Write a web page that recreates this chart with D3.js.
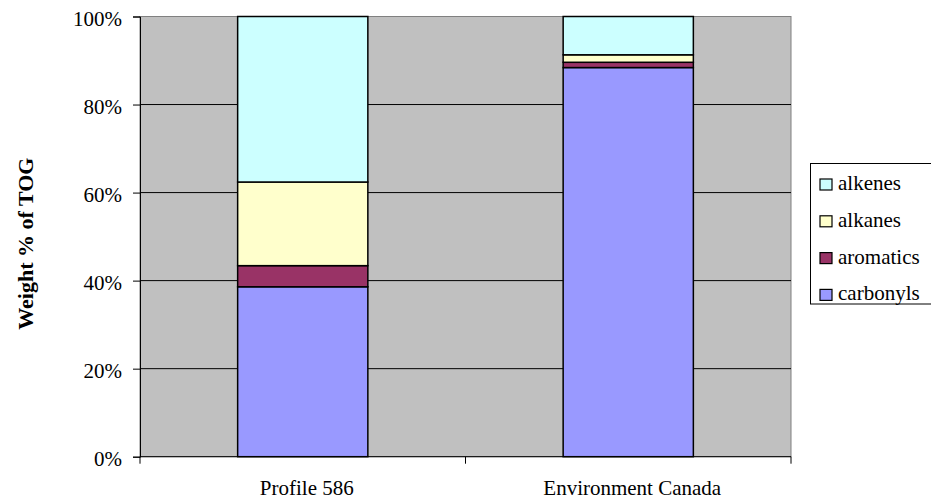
<!DOCTYPE html>
<html>
<head>
<meta charset="utf-8">
<script src="https://cdn.jsdelivr.net/npm/d3@7"></script>
<style>
  html, body { margin: 0; padding: 0; background: #fff; }
  svg { display: block; }
</style>
</head>
<body>
<svg id="chart" width="931" height="501"></svg>
<script>
// Profiles compared
const categories = ["Profile 586", "Environment Canada"];
// Compound classes, bottom to top of each stack
const seriesNames = ["carbonyls", "aromatics", "alkanes", "alkenes"];
// Weight % of TOG per class, one value per profile
const carbonyls = [38.6, 88.4];
const aromatics = [4.8, 1.2];
const alkanes = [19.0, 1.7];
const alkenes = [37.6, 8.7];
const yTicks = [0, 20, 40, 60, 80, 100];
const colors = { carbonyls: "#9999FF", aromatics: "#993366", alkanes: "#FFFFCC", alkenes: "#CCFFFF" };
const legendOrder = ["alkenes", "alkanes", "aromatics", "carbonyls"];

const FONT = "'Liberation Serif', 'Times New Roman', serif";

const rows = categories.map((c, i) => ({
  category: c,
  carbonyls: carbonyls[i], aromatics: aromatics[i], alkanes: alkanes[i], alkenes: alkenes[i]
}));

const svg = d3.select("#chart");
const plot = { left: 140, top: 16.5, right: 791, bottom: 456.7 };

const x = d3.scaleBand().domain(categories).range([plot.left, plot.right]).paddingInner(0.6).paddingOuter(0.3);
const xGroup = d3.scaleBand().domain(categories).range([plot.left, plot.right]);
const y = d3.scaleLinear().domain([0, 100]).range([plot.bottom, plot.top]);

// plot background
svg.append("rect")
  .attr("x", plot.left).attr("y", plot.top)
  .attr("width", plot.right - plot.left).attr("height", plot.bottom - plot.top)
  .attr("fill", "#C0C0C0").attr("stroke", "#808080").attr("stroke-width", 1);

// horizontal gridlines
svg.append("g").selectAll("line").data(yTicks.filter(t => t > 0 && t < 100)).join("line")
  .attr("x1", plot.left).attr("x2", plot.right)
  .attr("y1", d => y(d)).attr("y2", d => y(d))
  .attr("stroke", "#000").attr("stroke-width", 1);

// stacked bars
const stack = d3.stack().keys(seriesNames)(rows);
svg.append("g").selectAll("g").data(stack).join("g")
  .attr("fill", d => colors[d.key])
  .selectAll("rect").data(d => d).join("rect")
  .attr("x", d => x(d.data.category))
  .attr("width", x.bandwidth())
  .attr("y", d => y(d[1]))
  .attr("height", d => y(d[0]) - y(d[1]))
  .attr("stroke", "#000").attr("stroke-width", 1.5);

// y axis
const yAxis = d3.axisLeft(y).tickValues(yTicks).tickFormat(d => d + "%").tickSize(7).tickPadding(11);
const gy = svg.append("g").attr("transform", `translate(${plot.left},0)`).call(yAxis)
  .attr("font-family", FONT).attr("font-size", 21);
gy.select(".domain").attr("stroke", "#000");
gy.selectAll(".tick line").attr("stroke", "#000");
gy.selectAll(".tick text").attr("fill", "#000").attr("dy", "0.42em")
  .attr("font-family", FONT).attr("font-size", 21);

// x axis with ticks at group boundaries
const gx = svg.append("g").attr("transform", `translate(0,${plot.bottom})`);
gx.append("line").attr("x1", plot.left).attr("x2", plot.right).attr("stroke", "#000");
const boundaries = [plot.left].concat(categories.map(c => xGroup(c) + xGroup.bandwidth()));
gx.selectAll("line.tick").data(boundaries).join("line").attr("class", "tick")
  .attr("x1", d => d).attr("x2", d => d).attr("y1", 0).attr("y2", 7).attr("stroke", "#000");
gx.selectAll("text").data(categories).join("text")
  .attr("x", d => xGroup(d) + xGroup.bandwidth() / 2 + 4)
  .attr("y", 38.5)
  .attr("text-anchor", "middle")
  .attr("font-family", FONT).attr("font-size", 21)
  .text(d => d);

// y axis title
svg.append("text")
  .attr("transform", `translate(33,${(plot.top + plot.bottom) / 2 + 7}) rotate(-90)`)
  .attr("text-anchor", "middle")
  .attr("font-family", FONT).attr("font-size", 22).attr("font-weight", "bold")
  .text("Weight % of TOG");

// legend
const legend = svg.append("g");
legend.append("rect").attr("x", 810.5).attr("y", 163.5).attr("width", 125).attr("height", 140.5)
  .attr("fill", "#fff").attr("stroke", "#000").attr("stroke-width", 1);
const item = legend.selectAll("g.item").data(legendOrder).join("g").attr("class", "item")
  .attr("transform", (d, i) => `translate(820,${184.5 + i * 36.8})`);
item.append("rect").attr("x", 0).attr("y", -5.5).attr("width", 12).attr("height", 11)
  .attr("fill", d => colors[d]).attr("stroke", "#000").attr("stroke-width", 1.2);
item.append("text").attr("x", 18).attr("y", 5.5)
  .attr("font-family", FONT).attr("font-size", 21)
  .text(d => d);
</script>
</body>
</html>
